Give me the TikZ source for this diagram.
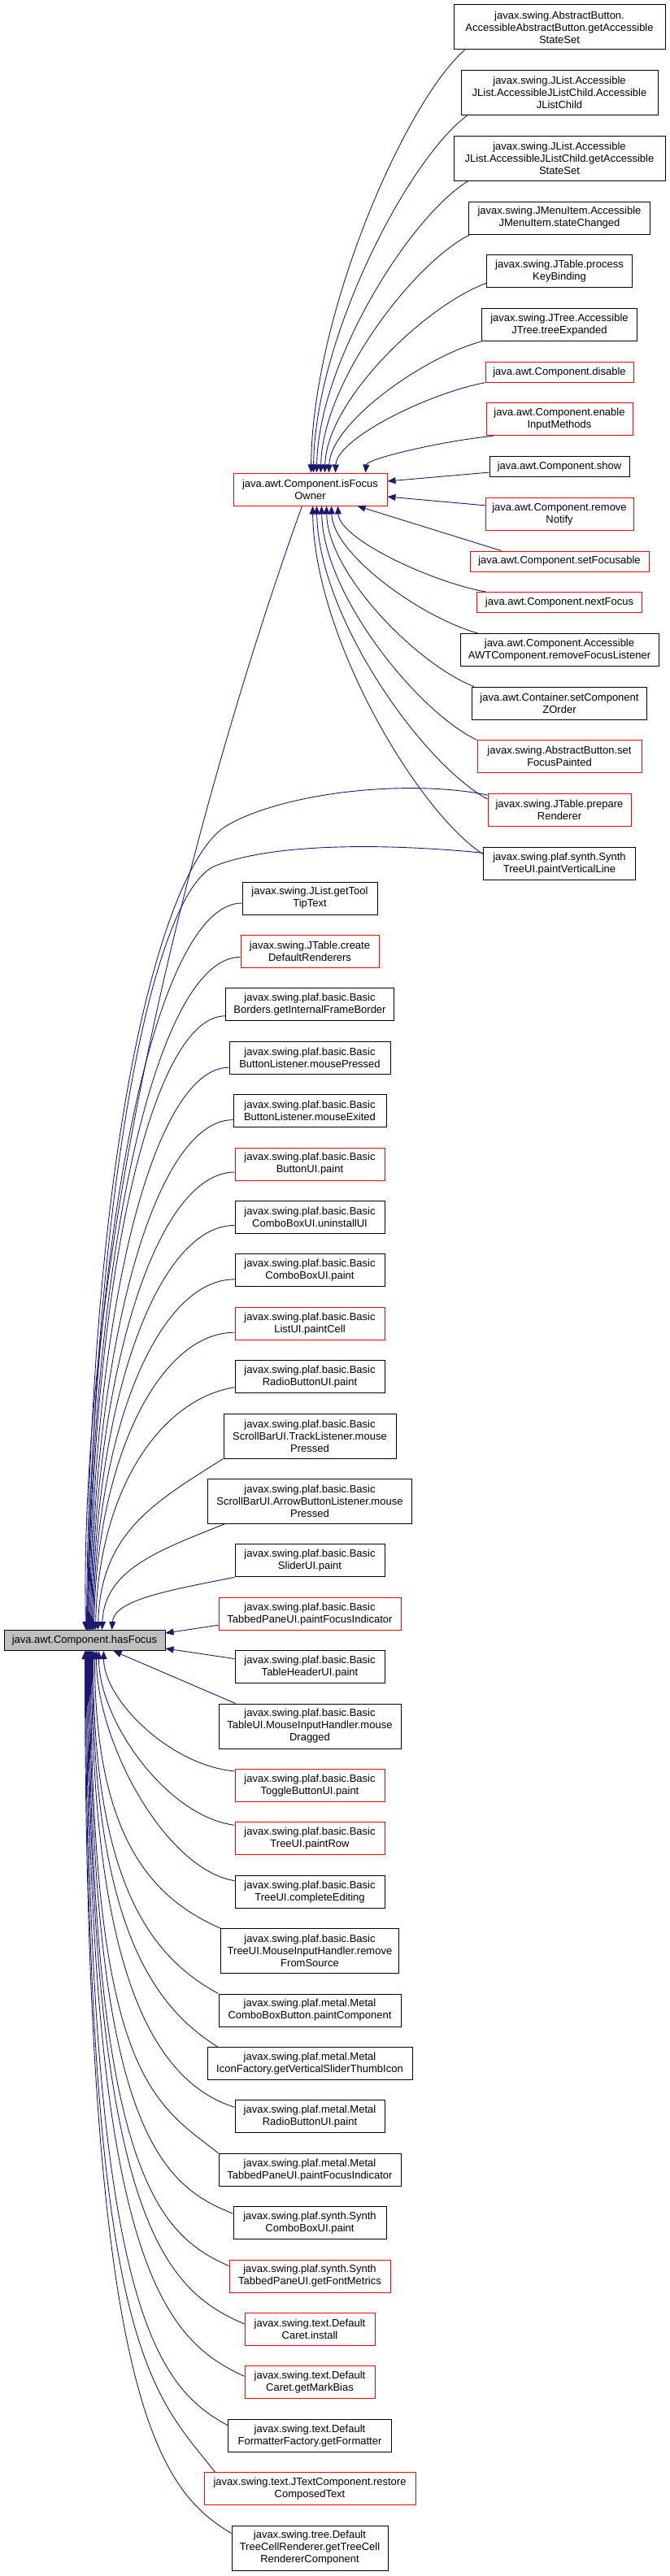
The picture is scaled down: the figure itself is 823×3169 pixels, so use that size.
\documentclass[tikz,border=0pt]{standalone}
\usepackage{fontspec}
\setmainfont{Liberation Sans}
\usetikzlibrary{calc,arrows.meta}
\definecolor{edgecol}{HTML}{191970}
\definecolor{hfgray}{HTML}{BFBFBF}
\definecolor{nodered}{HTML}{FF0000}
\tikzset{
  box/.style={draw=black, line width=1pt, fill=white, inner sep=0pt, align=center,
    font=\fontsize{13}{15}\selectfont, minimum height=40pt},
  redbox/.style={box, draw=nodered},
  ha/.style={minimum height=25pt},
  hc/.style={minimum height=55pt},
  arr/.style={draw=edgecol, line width=0.9pt, -{Triangle[length=10pt,width=8pt]}}
}
\newcommand\cedge[6]{\draw[arr] let \p1=#1, \p2=#2 in (\p1) .. controls ({\x1+#3*(\x2-\x1)},{\y1+#4*(\y2-\y1)}) and ({\x2+#5*(\x1-\x2)},{\y2+#6*(\y1-\y2)}) .. (\p2);}
\begin{document}
\begin{tikzpicture}[x=1pt,y=-1pt]
\useasboundingbox (0,0) rectangle (823,3169);
% ---- focus nodes
\node[box,ha,fill=hfgray,minimum width=198pt] (hf) at (104,2018) {java.awt.Component.hasFocus};
\node[redbox,minimum width=189pt] (fo) at (381.5,602) {java.awt.Component.isFocus\\Owner};
% ---- right column
\node[box,hc,minimum width=260pt] (r1) at (688,33.5) {javax.swing.AbstractButton.\\AccessibleAbstractButton.getAccessible\\StateSet};
\node[box,hc,minimum width=242pt] (r2) at (688,114.2) {javax.swing.JList.Accessible\\JList.AccessibleJListChild.Accessible\\JListChild};
\node[box,hc,minimum width=260pt] (r3) at (688,194.9) {javax.swing.JList.Accessible\\JList.AccessibleJListChild.getAccessible\\StateSet};
\node[box,minimum width=223pt] (r4) at (688,268.1) {javax.swing.JMenuItem.Accessible\\JMenuItem.stateChanged};
\node[box,minimum width=179pt] (r5) at (688,333.8) {javax.swing.JTable.process\\KeyBinding};
\node[box,minimum width=191pt] (r6) at (688,399.5) {javax.swing.JTree.Accessible\\JTree.treeExpanded};
\node[redbox,ha,minimum width=182pt] (r7) at (688,457.7) {java.awt.Component.disable};
\node[redbox,minimum width=180pt] (r8) at (688,515.9) {java.awt.Component.enable\\InputMethods};
\node[box,ha,minimum width=172pt] (r9) at (688,574.1) {java.awt.Component.show};
\node[redbox,minimum width=182pt] (r10) at (688,632.3) {java.awt.Component.remove\\Notify};
\node[redbox,ha,minimum width=220pt] (r11) at (688,690.5) {java.awt.Component.setFocusable};
\node[redbox,ha,minimum width=203pt] (r12) at (688,741.2) {java.awt.Component.nextFocus};
\node[box,minimum width=244pt] (r13) at (688,799.4) {java.awt.Component.Accessible\\AWTComponent.removeFocusListener};
\node[box,minimum width=215pt] (r14) at (688,865.1) {java.awt.Container.setComponent\\ZOrder};
\node[redbox,minimum width=202pt] (r15) at (688,930.8) {javax.swing.AbstractButton.set\\FocusPainted};
\node[redbox,minimum width=176pt] (r16) at (688,996.5) {javax.swing.JTable.prepare\\Renderer};
\node[box,minimum width=187pt] (r17) at (688,1062.2) {javax.swing.plaf.synth.Synth\\TreeUI.paintVerticalLine};
% ---- middle column
\node[box,minimum width=166pt] (m1) at (381,1105) {javax.swing.JList.getTool\\TipText};
\node[redbox,minimum width=170pt] (m2) at (381,1170.4) {javax.swing.JTable.create\\DefaultRenderers};
\node[box,minimum width=207pt] (m3) at (381,1235.8) {javax.swing.plaf.basic.Basic\\Borders.getInternalFrameBorder};
\node[box,minimum width=198pt] (m4) at (381,1301.2) {javax.swing.plaf.basic.Basic\\ButtonListener.mousePressed};
\node[box,minimum width=188pt] (m5) at (381,1366.6) {javax.swing.plaf.basic.Basic\\ButtonListener.mouseExited};
\node[redbox,minimum width=184pt] (m6) at (381,1432) {javax.swing.plaf.basic.Basic\\ButtonUI.paint};
\node[box,minimum width=184pt] (m7) at (381,1497.4) {javax.swing.plaf.basic.Basic\\ComboBoxUI.uninstallUI};
\node[box,minimum width=184pt] (m8) at (381,1562.8) {javax.swing.plaf.basic.Basic\\ComboBoxUI.paint};
\node[redbox,minimum width=184pt] (m9) at (381,1628.2) {javax.swing.plaf.basic.Basic\\ListUI.paintCell};
\node[box,minimum width=184pt] (m10) at (381,1693.6) {javax.swing.plaf.basic.Basic\\RadioButtonUI.paint};
\node[box,hc,minimum width=212pt] (m11) at (381,1766.5) {javax.swing.plaf.basic.Basic\\ScrollBarUI.TrackListener.mouse\\Pressed};
\node[box,hc,minimum width=251pt] (m12) at (381,1846.9) {javax.swing.plaf.basic.Basic\\ScrollBarUI.ArrowButtonListener.mouse\\Pressed};
\node[box,minimum width=184pt] (m13) at (381,1919.8) {javax.swing.plaf.basic.Basic\\SliderUI.paint};
\node[redbox,minimum width=224pt] (m14) at (381,1985.2) {javax.swing.plaf.basic.Basic\\TabbedPaneUI.paintFocusIndicator};
\node[box,minimum width=184pt] (m15) at (381,2050.6) {javax.swing.plaf.basic.Basic\\TableHeaderUI.paint};
\node[box,hc,minimum width=224pt] (m16) at (381,2123.5) {javax.swing.plaf.basic.Basic\\TableUI.MouseInputHandler.mouse\\Dragged};
\node[redbox,minimum width=184pt] (m17) at (381,2196.4) {javax.swing.plaf.basic.Basic\\ToggleButtonUI.paint};
\node[redbox,minimum width=184pt] (m18) at (381,2261.8) {javax.swing.plaf.basic.Basic\\TreeUI.paintRow};
\node[box,minimum width=184pt] (m19) at (381,2327.2) {javax.swing.plaf.basic.Basic\\TreeUI.completeEditing};
\node[box,hc,minimum width=219pt] (m20) at (381,2400.1) {javax.swing.plaf.basic.Basic\\TreeUI.MouseInputHandler.remove\\FromSource};
\node[box,minimum width=224pt] (m21) at (381,2473) {javax.swing.plaf.metal.Metal\\ComboBoxButton.paintComponent};
\node[box,minimum width=252pt] (m22) at (381,2538.4) {javax.swing.plaf.metal.Metal\\IconFactory.getVerticalSliderThumbIcon};
\node[box,minimum width=184pt] (m23) at (381,2603.8) {javax.swing.plaf.metal.Metal\\RadioButtonUI.paint};
\node[box,minimum width=224pt] (m24) at (381,2669.2) {javax.swing.plaf.metal.Metal\\TabbedPaneUI.paintFocusIndicator};
\node[box,minimum width=188pt] (m25) at (381,2734.6) {javax.swing.plaf.synth.Synth\\ComboBoxUI.paint};
\node[redbox,minimum width=198pt] (m26) at (381,2800) {javax.swing.plaf.synth.Synth\\TabbedPaneUI.getFontMetrics};
\node[redbox,minimum width=160pt] (m27) at (381,2865.4) {javax.swing.text.Default\\Caret.install};
\node[redbox,minimum width=160pt] (m28) at (381,2930.8) {javax.swing.text.Default\\Caret.getMarkBias};
\node[box,minimum width=201pt] (m29) at (381,2996.2) {javax.swing.text.Default\\FormatterFactory.getFormatter};
\node[redbox,minimum width=260pt] (m30) at (381,3061.6) {javax.swing.text.JTextComponent.restore\\ComposedText};
\node[box,hc,minimum width=192pt] (m31) at (381,3134.5) {javax.swing.tree.Default\\TreeCellRenderer.getTreeCell\\RendererComponent};
% ---- edges into isFocusOwner (top)
\cedge{($(r1.south west)+(14,0)$)}{($(fo.north west)+(96,0)$)}{0.38}{0.12}{0.01}{0.38}
\cedge{($(r2.south west)+(8,0)$)}{($(fo.north west)+(99,0)$)}{0.38}{0.12}{0.01}{0.38}
\cedge{($(r3.south west)+(18,0)$)}{($(fo.north west)+(103,0)$)}{0.38}{0.12}{0.01}{0.38}
\cedge{($(r4.south west)+(2,0)$)}{($(fo.north west)+(108,0)$)}{0.38}{0.12}{0.01}{0.38}
\cedge{($(r5.south west)+(0,-6)$)}{($(fo.north west)+(113,0)$)}{0.38}{0.12}{0.01}{0.38}
\cedge{(r6.south west)}{($(fo.north west)+(118,0)$)}{0.38}{0.12}{0.01}{0.38}
\cedge{(r7.south west)}{($(fo.north west)+(126,0)$)}{0.38}{0.12}{0.01}{0.38}
\cedge{($(r8.south west)+(9,0)$)}{($(fo.north west)+(163,0)$)}{0.38}{0.12}{0.01}{0.38}
\draw[arr] ($(r9.west)+(0,7)$) -- ($(fo.east)+(0,-10)$);
\draw[arr] ($(r10.north west)+(0,10)$) -- ($(fo.east)+(0,9)$);
% ---- edges into isFocusOwner (bottom)
\draw[arr] ($(r11.north west)+(39,0)$) -- ($(fo.south west)+(153,0)$);
\cedge{($(r12.north west)+(12,0)$)}{($(fo.south west)+(129,0)$)}{0.38}{0.12}{0.01}{0.38}
\cedge{($(r13.north west)+(22,0)$)}{($(fo.south west)+(121,0)$)}{0.38}{0.12}{0.01}{0.38}
\cedge{($(r14.north west)+(3,0)$)}{($(fo.south west)+(115,0)$)}{0.38}{0.12}{0.01}{0.38}
\cedge{(r15.north west)}{($(fo.south west)+(109,0)$)}{0.38}{0.12}{0.01}{0.38}
\cedge{($(r16.north west)+(0,7)$)}{($(fo.south west)+(103,0)$)}{0.38}{0.12}{0.01}{0.38}
\cedge{($(r17.north west)+(0,9)$)}{($(fo.south west)+(98,0)$)}{0.38}{0.12}{0.01}{0.38}
% ---- long edges into hasFocus
\draw[arr] ($(fo.south west)+(85,0)$) .. controls (300,820) and (95,1450) .. ($(hf.north west)+(101,0)$);
\draw[arr] ($(r16.north west)+(0,2)$) .. controls (500,958) and (350,975) .. (280,1015) .. controls (200,1060) and (110,1400) .. ($(hf.north west)+(102,0)$);
\draw[arr] ($(r17.west)+(0,-13)$) .. controls (480,1038) and (340,1036) .. (265,1065) .. controls (190,1095) and (115,1450) .. ($(hf.north west)+(103,0)$);
% ---- middle column above hasFocus
\cedge{($(m1.west)+(0,6)$)}{($(hf.north west)+(103,0)$)}{0.54}{0}{0.02}{0.57}
\cedge{($(m2.west)+(0,7)$)}{($(hf.north west)+(104,0)$)}{0.54}{0}{0.02}{0.57}
\cedge{($(m3.west)+(0,14)$)}{($(hf.north west)+(105,0)$)}{0.54}{0}{0.02}{0.57}
\cedge{($(m4.west)+(0,12)$)}{($(hf.north west)+(106,0)$)}{0.54}{0}{0.02}{0.57}
\cedge{($(m5.west)+(0,11)$)}{($(hf.north west)+(107,0)$)}{0.54}{0}{0.02}{0.57}
\cedge{($(m6.west)+(0,10)$)}{($(hf.north west)+(108,0)$)}{0.54}{0}{0.02}{0.57}
\cedge{($(m7.west)+(0,10)$)}{($(hf.north west)+(109,0)$)}{0.54}{0}{0.02}{0.57}
\cedge{($(m8.west)+(0,11)$)}{($(hf.north west)+(110,0)$)}{0.54}{0}{0.02}{0.57}
\cedge{($(m9.west)+(0,11)$)}{($(hf.north west)+(111,0)$)}{0.54}{0}{0.02}{0.57}
\cedge{($(m10.west)+(0,13)$)}{($(hf.north west)+(113,0)$)}{0.54}{0.05}{0.02}{0.57}
\cedge{(m11.south west)}{($(hf.north west)+(116,0)$)}{0.54}{0.25}{0.02}{0.57}
\cedge{($(m12.south west)+(21,0)$)}{($(hf.north west)+(121,0)$)}{0.54}{0.25}{0.02}{0.57}
\cedge{(m13.south west)}{($(hf.north west)+(133,0)$)}{0.54}{0.25}{0.02}{0.57}
\draw[arr] ($(m14.west)+(0,14)$) -- ($(hf.east)+(0,-9)$);
\draw[arr] ($(m15.west)+(0,-10)$) -- ($(hf.east)+(0,10)$);
% ---- middle column below hasFocus
\draw[arr] ($(m16.north west)+(21,0)$) -- ($(hf.south west)+(135,0)$);
\cedge{($(m17.north west)+(0,3)$)}{($(hf.south west)+(123,0)$)}{0.5}{0.05}{0}{0.4}
\cedge{($(m18.north west)+(0,4)$)}{($(hf.south west)+(117,0)$)}{0.5}{0.05}{0}{0.4}
\cedge{($(m19.north west)+(0,7)$)}{($(hf.south west)+(114,0)$)}{0.5}{0.05}{0}{0.4}
\cedge{(m20.north west)}{($(hf.south west)+(112,0)$)}{0.5}{0.1}{0}{0.7}
\cedge{(m21.north west)}{($(hf.south west)+(110,0)$)}{0.5}{0.1}{0}{0.7}
\cedge{($(m22.north west)+(13,0)$)}{($(hf.south west)+(109,0)$)}{0.5}{0.1}{0}{0.7}
\cedge{($(m23.north west)+(0,9)$)}{($(hf.south west)+(108,0)$)}{0.5}{0.05}{0}{0.75}
\cedge{(m24.north west)}{($(hf.south west)+(107,0)$)}{0.5}{0.1}{0}{0.85}
\cedge{($(m25.north west)+(0,9)$)}{($(hf.south west)+(106,0)$)}{0.5}{0.05}{0}{0.85}
\cedge{($(m26.north west)+(0,8)$)}{($(hf.south west)+(105,0)$)}{0.5}{0.05}{0}{0.85}
\cedge{($(m27.north west)+(0,14)$)}{($(hf.south west)+(104,0)$)}{0.5}{0.05}{0}{0.85}
\cedge{($(m28.north west)+(0,13)$)}{($(hf.south west)+(103,0)$)}{0.5}{0.05}{0}{0.85}
\cedge{($(m29.north west)+(0,8)$)}{($(hf.south west)+(102,0)$)}{0.5}{0.05}{0}{0.85}
\cedge{($(m30.north west)+(14,0)$)}{($(hf.south west)+(101,0)$)}{0.5}{0.1}{0}{0.85}
\cedge{($(m31.north west)+(0,10)$)}{($(hf.south west)+(100,0)$)}{0.5}{0.05}{0}{0.85}
\end{tikzpicture}
\end{document}
